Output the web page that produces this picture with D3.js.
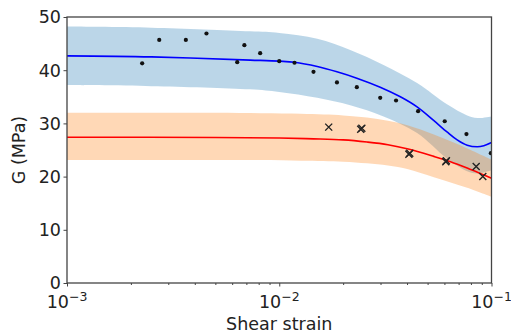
<!DOCTYPE html>
<html>
<head>
<meta charset="utf-8">
<script src="https://cdn.jsdelivr.net/npm/d3@7"></script>
<style>
    body { margin: 0; background: #fff; }
    svg text { font-family: "DejaVu Sans", sans-serif; fill: #222; }
</style>
</head>
<body>
<svg id="chart"></svg>
<script>
// measured points (shear strain, G in MPa)
const dotStrain = [0.00226, 0.00272, 0.00363, 0.00454, 0.00634, 0.00685, 0.00813, 0.0100, 0.0118,
    0.0145, 0.0187, 0.0232, 0.0299, 0.0355, 0.0451, 0.0602, 0.0762, 0.0993];
const dotG = [41.3, 45.7, 45.7, 46.9, 41.5, 44.7, 43.2, 41.7, 41.4,
    39.7, 37.7, 36.8, 34.8, 34.3, 32.3, 30.4, 28.0, 24.4];

const crossStrain = [0.0171, 0.0242, 0.0245, 0.0408, 0.0412, 0.0609, 0.0613, 0.0847, 0.0910];
const crossG = [29.3, 28.9, 29.1, 24.2, 24.4, 22.8, 23.0, 21.9, 20.0];

// fitted curves
const blueStrain = [0.001, 0.0025, 0.0073, 0.01, 0.0118, 0.0151, 0.0187, 0.0232, 0.0299, 0.0372,
    0.0446, 0.0532, 0.0617, 0.0689, 0.0768, 0.0857, 0.092, 0.1];
const blueG = [42.7, 42.5, 41.9, 41.7, 41.5, 40.7, 39.7, 38.5, 36.8, 35.0,
    33.1, 30.6, 28.4, 26.9, 25.9, 25.6, 25.8, 26.4];

const redStrain = [0.001, 0.005, 0.01, 0.0145, 0.02, 0.0259, 0.0325, 0.0405, 0.0535, 0.0641, 0.0768, 0.092, 0.1];
const redG = [27.4, 27.35, 27.25, 27.1, 26.9, 26.5, 26.0, 25.2, 23.8, 22.8, 21.6, 20.3, 19.7];

// uncertainty bands
const blueBandStrain = [0.001, 0.0025, 0.0073, 0.01, 0.0151, 0.0216, 0.031, 0.0446, 0.0617, 0.0768, 0.0857, 0.1];
const blueUpper = [48.2, 48.0, 47.3, 47.0, 45.9, 43.8, 41.0, 37.6, 33.6, 31.5, 31.0, 31.3];
const blueLower = [37.2, 37.0, 36.4, 35.9, 34.8, 33.4, 31.3, 28.2, 23.4, 21.0, 20.6, 21.2];

const redBandStrain = [0.001, 0.005, 0.0126, 0.02, 0.0259, 0.0325, 0.0405, 0.0535, 0.0768, 0.1];
const redUpper = [32.0, 32.0, 31.8, 31.5, 31.1, 30.5, 29.6, 27.9, 25.3, 23.2];
const redLower = [23.1, 23.1, 23.0, 22.8, 22.5, 22.1, 21.4, 19.9, 17.9, 16.2];

const yTicks = [0, 10, 20, 30, 40, 50];
const xTicks = [0.001, 0.01, 0.1];
const xTickExp = ['\u22123', '\u22122', '\u22121'];

// svg dims
const width = 511, height = 333;
const margin = {top: 17, left: 67, right: 19.5, bottom: 50};

const svg = d3.select('#chart')
    .attr('width', width)
    .attr('height', height);

const x = d3.scaleLog().domain([0.001, 0.1]).range([margin.left, width - margin.right]);
const y = d3.scaleLinear().domain([0, 50]).range([height - margin.bottom, margin.top]);

svg.append('clipPath').attr('id', 'clip')
    .append('rect')
    .attr('x', margin.left).attr('y', margin.top)
    .attr('width', width - margin.left - margin.right)
    .attr('height', height - margin.top - margin.bottom);

const plot = svg.append('g').attr('clip-path', 'url(#clip)');
const smooth = d3.curveCatmullRom.alpha(0.5);

function band(xs, hi, lo, color) {
    let area = d3.area()
        .x(function(d, i) { return x(xs[i]); })
        .y0(function(d, i) { return y(lo[i]); })
        .y1(function(d, i) { return y(hi[i]); })
        .curve(smooth);
    plot.append('path')
        .attr('d', area(xs))
        .attr('fill', color)
        .attr('fill-opacity', 0.3);
}

function curve(xs, ys, color) {
    let line = d3.line()
        .x(function(d, i) { return x(xs[i]); })
        .y(function(d, i) { return y(ys[i]); })
        .curve(smooth);
    plot.append('path')
        .attr('d', line(xs))
        .attr('fill', 'none')
        .attr('stroke', color)
        .attr('stroke-width', 1.6);
}

band(blueBandStrain, blueUpper, blueLower, '#1f77b4');
band(redBandStrain, redUpper, redLower, '#ff7f0e');
curve(blueStrain, blueG, '#0000ff');
curve(redStrain, redG, '#ff0000');

// dots
plot.selectAll('.dot')
    .data(dotStrain)
    .join('circle')
    .attr('class', 'dot')
    .attr('cx', function(d) { return x(d); })
    .attr('cy', function(d, i) { return y(dotG[i]); })
    .attr('r', 2.1)
    .attr('fill', '#111');

// crosses
const s = 3.5;
plot.selectAll('.cross')
    .data(crossStrain)
    .join('path')
    .attr('class', 'cross')
    .attr('d', function(d, i) {
        let cx = x(d), cy = y(crossG[i]);
        return `M${cx - s},${cy - s}L${cx + s},${cy + s}M${cx - s},${cy + s}L${cx + s},${cy - s}`;
    })
    .attr('stroke', '#222')
    .attr('stroke-width', 1.4)
    .attr('fill', 'none');

// axes
const axisColor = '#444';
const gx = svg.append('g')
    .attr('transform', `translate(0,${height - margin.bottom})`)
    .call(d3.axisBottom(x).tickSizeOuter(0).tickSize(3.5).tickFormat(''));
gx.select('.domain').remove();
gx.selectAll('line').attr('stroke', axisColor).attr('stroke-width', 1);
gx.selectAll('.tick').filter(function(d) { return xTicks.indexOf(d) < 0; })
    .select('line').attr('y2', 2);

const gy = svg.append('g')
    .attr('transform', `translate(${margin.left},0)`)
    .call(d3.axisLeft(y).tickValues(yTicks).tickSize(3.5).tickFormat(''));
gy.select('.domain').remove();
gy.selectAll('line').attr('stroke', axisColor).attr('stroke-width', 1);

// frame
svg.append('rect')
    .attr('x', margin.left).attr('y', margin.top)
    .attr('width', width - margin.left - margin.right)
    .attr('height', height - margin.top - margin.bottom)
    .attr('fill', 'none')
    .attr('stroke', axisColor)
    .attr('stroke-width', 1.3);

// tick labels
svg.selectAll('.ylab')
    .data(yTicks)
    .join('text')
    .attr('class', 'ylab')
    .attr('x', margin.left - 6)
    .attr('y', function(d) { return y(d) + 6.3; })
    .attr('text-anchor', 'end')
    .style('font-size', '17.5px')
    .text(function(d) { return d; });

xTicks.forEach(function(t, i) {
    let txt = svg.append('text')
        .attr('x', x(t))
        .attr('y', 307.5)
        .attr('text-anchor', 'middle')
        .style('font-size', '17.5px');
    txt.append('tspan').text('10');
    txt.append('tspan')
        .attr('dy', -7)
        .style('font-size', '12.5px')
        .text(xTickExp[i]);
});

// axis titles
svg.append('text')
    .attr('x', (margin.left + width - margin.right) / 2)
    .attr('y', 330)
    .attr('text-anchor', 'middle')
    .style('font-size', '17.5px')
    .text('Shear strain');

svg.append('text')
    .attr('transform', `translate(25,${(margin.top + height - margin.bottom) / 2}) rotate(-90)`)
    .attr('text-anchor', 'middle')
    .style('font-size', '17.5px')
    .text('G (MPa)');
</script>
</body>
</html>
